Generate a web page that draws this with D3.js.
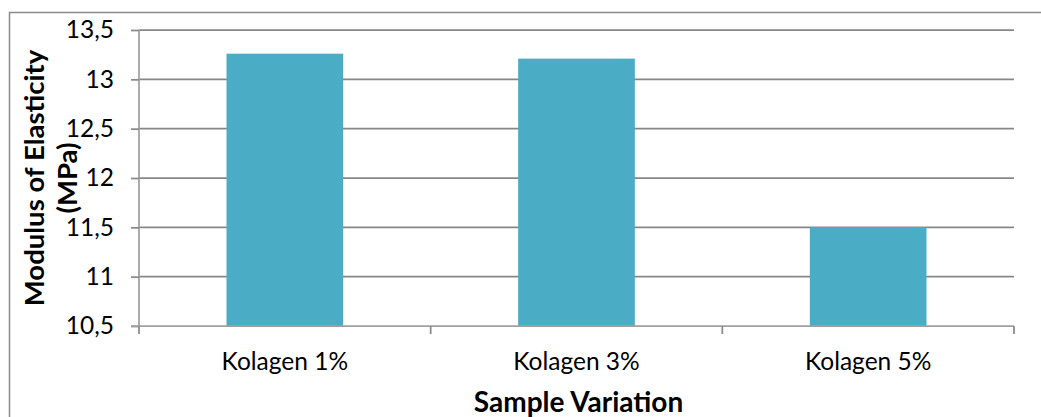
<!DOCTYPE html>
<html><head><meta charset="utf-8">
<script src="https://cdn.jsdelivr.net/npm/d3@7"></script>
<style>
html,body{margin:0;padding:0;background:#fff;}
svg{display:block;}
text{font-family:Lato,"Open Sans",sans-serif;fill:#000;}
</style></head>
<body>
<svg id="chart" width="1041" height="417"></svg>
<script>
const categories = ["Kolagen 1%", "Kolagen 3%", "Kolagen 5%"];
const values = [13.26, 13.21, 11.5];
const yTicks = [10.5, 11, 11.5, 12, 12.5, 13, 13.5];
const yTitleLines = ["Modulus of Elasticity", "(MPa)"];
const xTitle = "Sample Variation";

const svg = d3.select("#chart");
const W = 1041, H = 417;
const m = {left: 139, right: 1014, top: 30, bottom: 326};

// outer border
svg.append("path").attr("d", `M9.5,${H} L9.5,12.5 L${W},12.5`)
  .attr("fill", "none").attr("stroke", "#8a8a8a").attr("stroke-width", 1.5);

const x = d3.scaleBand().domain(categories).range([m.left, m.right]).paddingInner(0.6).paddingOuter(0.3);
const y = d3.scaleLinear().domain([10.5, 13.5]).range([m.bottom, m.top]);
const fmt = d => String(d).replace(".", ",");

// gridlines
svg.append("g").selectAll("line").data(yTicks.filter(d => d > 10.5)).join("line")
  .attr("x1", m.left).attr("x2", m.right)
  .attr("y1", d => y(d)).attr("y2", d => y(d))
  .attr("stroke", "#878787").attr("stroke-width", 1.75);

// bars
svg.append("g").selectAll("rect").data(values).join("rect")
  .attr("x", (d, i) => x(categories[i]))
  .attr("width", x.bandwidth())
  .attr("y", d => y(d))
  .attr("height", d => y(10.5) - y(d))
  .attr("fill", "#4bacc6");

// y axis
const yAxis = svg.append("g").attr("transform", `translate(${m.left},0)`)
  .call(d3.axisLeft(y).tickValues(yTicks).tickFormat(fmt).tickSize(8).tickPadding(17));
yAxis.select(".domain").attr("stroke", "#a0a0a0").attr("stroke-width", 1.75).attr("d", `M0,${m.top}V${m.bottom}`);
yAxis.selectAll(".tick line").attr("stroke", "#8a8a8a").attr("stroke-width", 1.75);
yAxis.selectAll(".tick text").attr("font-size", 24.5).style("font-family", "Lato");

// x axis
const bounds = [m.left, ...categories.map(c => x(c) + x.bandwidth() / 2 + x.step() / 2)];
const xg = svg.append("g");
xg.append("line").attr("x1", m.left - 8).attr("x2", m.right)
  .attr("y1", m.bottom).attr("y2", m.bottom)
  .attr("stroke", "#a0a0a0").attr("stroke-width", 1.75);
xg.selectAll("line.tk").data(bounds).join("line").attr("class", "tk")
  .attr("x1", d => d).attr("x2", d => d)
  .attr("y1", m.bottom).attr("y2", m.bottom + 8)
  .attr("stroke", "#8a8a8a").attr("stroke-width", 1.75);
xg.selectAll("text").data(categories).join("text")
  .attr("x", d => x(d) + x.bandwidth() / 2).attr("y", 370)
  .attr("text-anchor", "middle").attr("font-size", 24.5).text(d => d);

// titles
svg.append("text").attr("x", (m.left + m.right) / 2 + 2).attr("y", 412)
  .attr("text-anchor", "middle").attr("font-size", 28).attr("font-weight", "bold").text(xTitle);

const yt = svg.append("text").attr("transform", `translate(0,${(m.top + m.bottom) / 2}) rotate(-90)`)
  .attr("text-anchor", "middle").attr("font-size", 27.5).attr("font-weight", "bold");
yt.selectAll("tspan").data(yTitleLines).join("tspan")
  .attr("x", 0).attr("y", (d, i) => [44, 77][i]).text(d => d);
</script>
</body></html>
